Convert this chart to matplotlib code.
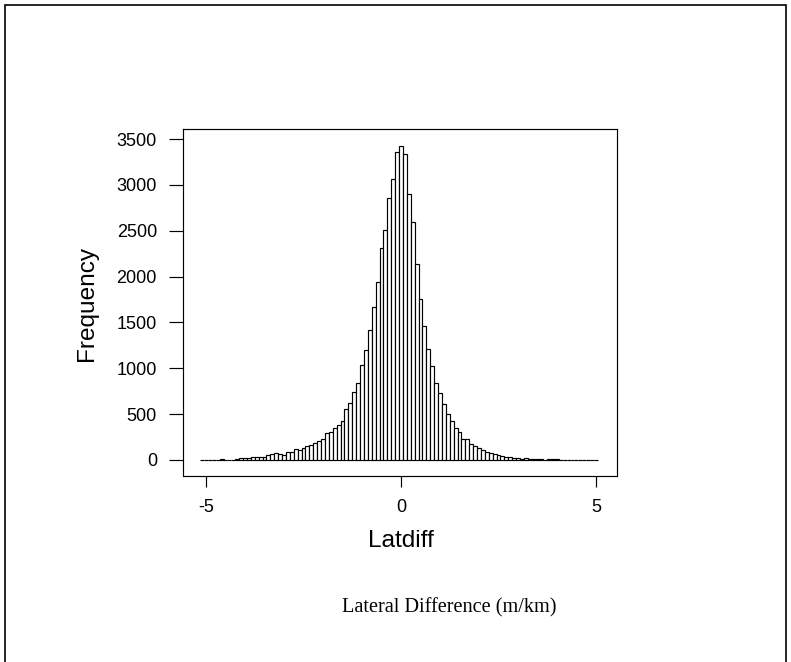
import numpy as np
import matplotlib
matplotlib.use("Agg")
import matplotlib.pyplot as plt
from matplotlib.patches import Rectangle

# Bin midpoints (width 0.1) and counts of the lateral difference histogram
bin_centers = [round(-5.1 + 0.1 * i, 1) for i in range(102)]
counts = [
    # -5.1 .. -4.2
    1, 2, 1, 2, 3, 7, 3, 3, 4, 6,
    # -4.1 .. -3.2
    18, 18, 18, 30, 30, 32, 33, 55, 60, 75,
    # -3.1 .. -2.2
    60, 57, 84, 82, 116, 103, 129, 151, 162, 183,
    # -2.1 .. -1.2
    204, 226, 291, 307, 345, 382, 429, 553, 618, 741,
    # -1.1 .. -0.2
    843, 1030, 1194, 1418, 1667, 1936, 2315, 2512, 2852, 3064,
    # -0.1 .. 0.8
    3362, 3428, 3333, 2897, 2592, 2137, 1757, 1461, 1214, 1029,
    # 0.9 .. 1.8
    843, 725, 611, 502, 429, 347, 309, 225, 224, 173,
    # 1.9 .. 2.8
    148, 127, 109, 91, 74, 62, 51, 44, 35, 27,
    # 2.9 .. 3.8
    18, 22, 14, 24, 10, 8, 6, 5, 4, 6,
    # 3.9 .. 5.0
    7, 6, 3, 3, 2, 3, 2, 2, 1, 2, 1, 2,
]
bin_width = 0.1

x_ticks = [-5, 0, 5]
y_ticks = [0, 500, 1000, 1500, 2000, 2500, 3000, 3500]

W, H = 791, 662
fig = plt.figure(figsize=(W / 100, H / 100), dpi=100)
fig.patch.set_facecolor("white")

sans = ["Liberation Sans", "DejaVu Sans"]
serif = ["Liberation Serif", "DejaVu Serif"]

ax_l, ax_r, ax_t, ax_b = 183.0, 617.0, 129.0, 475.5
ax = fig.add_axes([ax_l / W, 1 - ax_b / H, (ax_r - ax_l) / W, (ax_b - ax_t) / H])
ax.bar(bin_centers, counts, width=bin_width, color="white",
       edgecolor="black", linewidth=0.85, align="center")

ax.set_xlim(-5.59, 5.54)
ax.set_ylim(-170, 3610)
ax.set_xticks(x_ticks)
ax.set_xticklabels([str(v) for v in x_ticks], family=sans, fontsize=13)
ax.set_yticks(y_ticks)
ax.set_yticklabels([str(v) for v in y_ticks], family=sans, fontsize=13)
ax.tick_params(axis="y", direction="out", length=10.4, width=0.85, pad=8.4, color="black")
ax.tick_params(axis="x", direction="out", length=8, width=0.85, pad=9, color="black")
for s in ax.spines.values():
    s.set_linewidth(0.85)
    s.set_color("black")

fig.text(401 / W, 1 - 541 / H, "Latdiff", family=sans, fontsize=17.6,
         ha="center", va="center")
fig.text(87 / W, 1 - 303 / H, "Frequency", family=sans, fontsize=17.6,
         rotation=90, ha="center", va="center")

fig.text(449 / W, 1 - 608 / H, "Lateral Difference (m/km)", family=serif,
         fontsize=14.6, ha="center", va="center")

# Outer frame around the whole figure (open at the bottom edge)
fig.patches.append(Rectangle((5 / W, -0.01), (786 - 5) / W, 1 - 5 / H + 0.01,
                             transform=fig.transFigure, fill=False,
                             edgecolor="black", linewidth=1.2))

fig.savefig("out.png", dpi=100, facecolor="white")
